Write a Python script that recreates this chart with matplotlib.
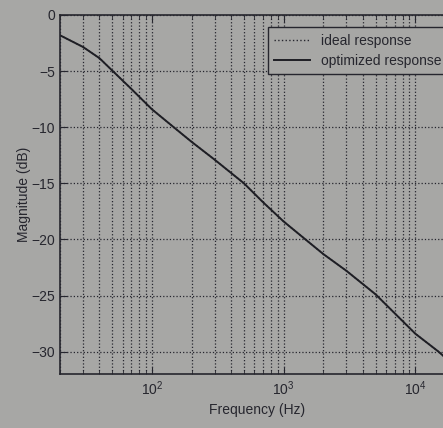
import numpy as np
import matplotlib.pyplot as plt
from matplotlib.ticker import LogLocator, NullFormatter

# values
freq_hz = [20, 30, 40, 50, 70, 100, 150, 200, 300, 500, 700, 1000, 1500, 2000,
           3000, 5000, 7000, 10000, 15000, 20000]
optimized_db = [-1.8, -2.85, -3.85, -4.95, -6.6, -8.4, -10.1, -11.3, -12.9, -15.0, -16.7,
                -18.4, -20.1, -21.3, -22.8, -24.9, -26.6, -28.4, -30.0, -31.3]
# the ideal curve sits under the optimized one in the picture
ideal_db = [-1.8, -2.85, -3.85, -4.95, -6.6, -8.4, -10.1, -11.3, -12.9, -15.0, -16.7,
            -18.4, -20.1, -21.3, -22.8, -24.9, -26.6, -28.4, -30.0, -31.3]
yticks = [0, -5, -10, -15, -20, -25, -30]

bg = '#a7a7a5'
ink = '#26262e'

plt.rcParams['font.family'] = ['Liberation Sans', 'DejaVu Sans']

fig = plt.figure(figsize=(4.43, 4.28), dpi=100, facecolor=bg)
ax = fig.add_axes([0.135, 0.126, 0.892, 0.839], facecolor=bg)

ax.semilogx(freq_hz, ideal_db, ':', color=ink, lw=1.0, label='ideal response')
ax.semilogx(freq_hz, optimized_db, '-', color='#1e1e24', lw=1.4, label='optimized response')

ax.set_xlim(20, 20000)
ax.set_ylim(-32, 0)
ax.set_yticks(yticks)
ax.set_yticklabels(['0', '\u22125', '\u221210', '\u221215', '\u221220', '\u221225', '\u221230'])
ax.xaxis.set_major_locator(LogLocator(base=10))
ax.xaxis.set_minor_locator(LogLocator(base=10, subs=np.arange(2, 10)))
ax.xaxis.set_minor_formatter(NullFormatter())

ax.grid(True, which='major', axis='both', linestyle=':', color=ink, lw=0.9)
ax.grid(True, which='minor', axis='x', linestyle=':', color=ink, lw=0.9)

ax.tick_params(which='both', direction='in', top=True, right=True, colors=ink, labelsize=10)
ax.tick_params(which='major', length=5)
ax.tick_params(which='minor', length=3)
for s in ax.spines.values():
    s.set_color(ink)
    s.set_linewidth(1.2)

ax.set_xlabel('Frequency (Hz)', color=ink, fontsize=10, labelpad=4)
ax.set_ylabel('Magnitude (dB)', color=ink, fontsize=10, labelpad=0)

leg = ax.legend(loc='upper right', bbox_to_anchor=(1.0, 0.985), fontsize=10, frameon=True,
                fancybox=False, edgecolor=ink, facecolor=bg, framealpha=1,
                handlelength=2.6, borderpad=0.45, labelspacing=0.45)
for t in leg.get_texts():
    t.set_color(ink)

fig.savefig('out.png', dpi=100, facecolor=bg)
